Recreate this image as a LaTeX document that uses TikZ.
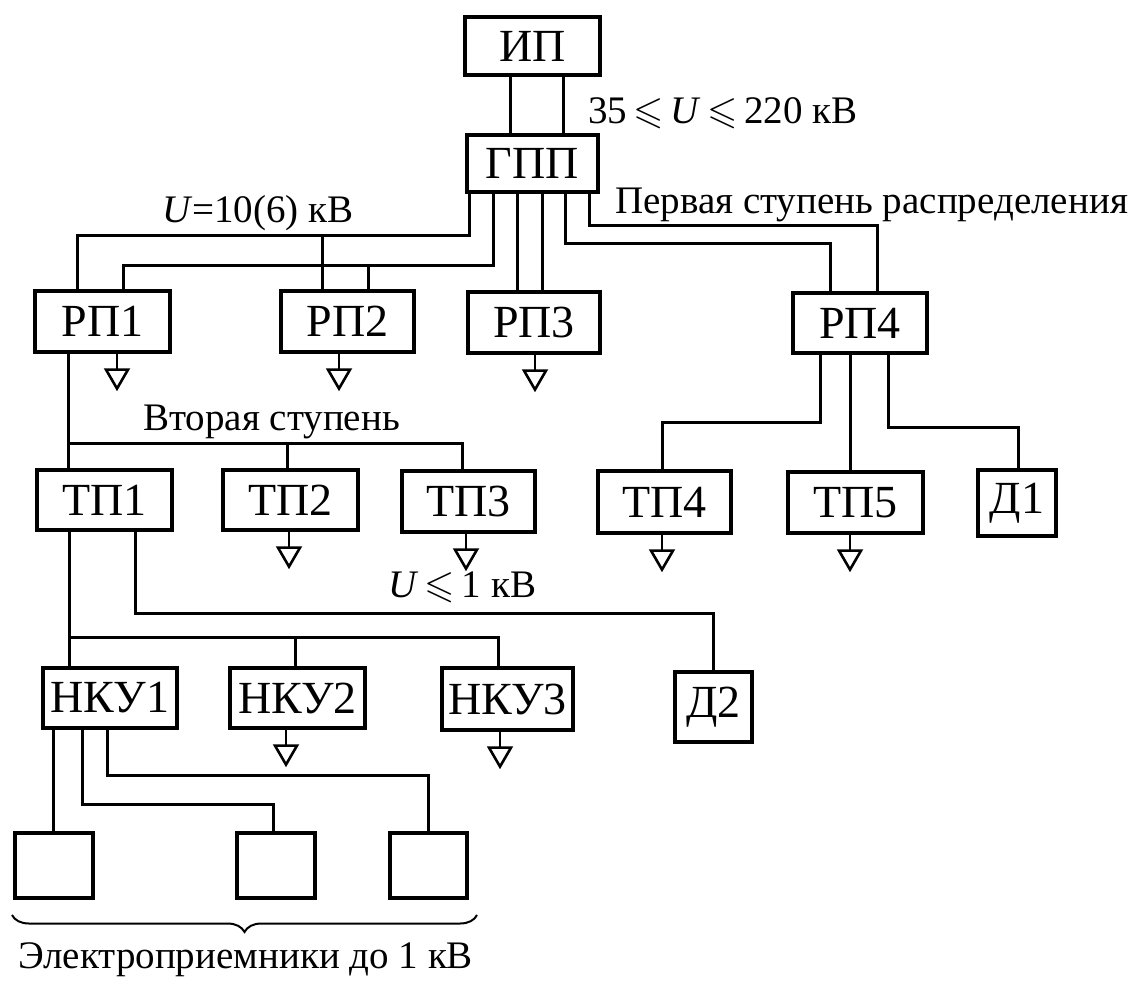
\documentclass[tikz,border=0pt]{standalone}
\usepackage{fontspec}
\usepackage{amssymb}
\setmainfont{Liberation Serif}
\usetikzlibrary{decorations.pathreplacing}

\tikzset{
  blok/.style={draw, line width=3.2pt, inner sep=0pt, font=\fontsize{46}{48}\selectfont},
  liniya/.style={line width=3pt},
  nadp/.style={inner sep=0pt, anchor=base west, font=\fontsize{39}{41}\selectfont},
  zeml/.pic={
    \draw[line width=2.6pt] (0,0) -- (0,16);
    \draw[line width=2.6pt, fill=white] (-11,16) -- (11,16) -- (0,35) -- cycle;
  }
}

\begin{document}
\begin{tikzpicture}[x=1pt, y=-1pt]
\useasboundingbox (0,0) rectangle (1134,983);
% blocks
\foreach \n/\lbl/\xa/\ya/\xb/\yb in {ip/ИП/465/17/600/75, gpp/ГПП/467/135/598/192,
    rp1/РП1/35/291/170/352, rp2/РП2/281/291/414/352, rp3/РП3/468/292/600/353, rp4/РП4/793/293/927/353,
    tp1/ТП1/37/470/172/530, tp2/ТП2/223/470/358/530, tp3/ТП3/402/471/535/532,
    tp4/ТП4/598/471/731/533, tp5/ТП5/788/472/923/533, d1/Д1/978/470/1056/536,
    nku1/НКУ1/43/668/177/728, nku2/НКУ2/230/668/365/728, nku3/НКУ3/442/668/573/730, d2/Д2/675/672/752/742,
    e1//15/833/93/898, e2//237/833/315/898, e3//390/833/467/898}
  \node[blok, minimum width={(\xb-\xa)*1pt}, minimum height={(\yb-\ya)*1pt}] (\n) at ({(\xa+\xb)/2},{(\ya+\yb)/2}) {\lbl};

% first stage
\draw[liniya] (ip.south -| 510,0) -- (gpp.north -| 510,0);
\draw[liniya] (ip.south -| 563,0) -- (gpp.north -| 563,0);
\draw[liniya] (gpp.south -| 469,0) |- (77,235) -- (rp1.north -| 77,0);
\draw[liniya] (gpp.south -| 493,0) |- (123,265) -- (rp1.north -| 123,0);
\draw[liniya] (322,235) -- (rp2.north -| 322,0);
\draw[liniya] (368,265) -- (rp2.north -| 368,0);
\draw[liniya] (gpp.south -| 517,0) -- (rp3.north -| 517,0);
\draw[liniya] (gpp.south -| 542,0) -- (rp3.north -| 542,0);
\draw[liniya] (gpp.south -| 565,0) |- (830,243) -- (rp4.north -| 830,0);
\draw[liniya] (gpp.south -| 589,0) |- (877,225) -- (rp4.north -| 877,0);

% second stage
\draw[liniya] (rp1.south -| 68,0) -- (tp1.north -| 68,0);
\draw[liniya] (68,443) -| (tp3.north -| 462,0);
\draw[liniya] (287,443) -- (tp2.north -| 287,0);
\draw[liniya] (rp4.south -| 820,0) |- (662,422) -- (tp4.north -| 662,0);
\draw[liniya] (rp4.south -| 850,0) -- (tp5.north -| 850,0);
\draw[liniya] (rp4.south -| 888,0) |- (1018,427) -- (d1.north -| 1018,0);

% up to 1 kV
\draw[liniya] (tp1.south -| 69,0) -- (nku1.north -| 69,0);
\draw[liniya] (69,637) -| (nku3.north -| 498,0);
\draw[liniya] (295,637) -- (nku2.north -| 295,0);
\draw[liniya] (tp1.south -| 135,0) |- (713,613) -- (d2.north -| 713,0);
\draw[liniya] (nku1.south -| 53,0) -- (e1.north -| 53,0);
\draw[liniya] (nku1.south -| 82,0) |- (273,804) -- (e2.north -| 273,0);
\draw[liniya] (nku1.south -| 107,0) |- (428,775) -- (e3.north -| 428,0);

% earthing
\foreach \n/\xg in {rp1/117, rp2/339, rp3/535, tp2/289, tp3/466, tp4/662, tp5/850, nku2/286, nku3/500}
  \pic at (\n.south -| \xg,0) {zeml};

% labels
\node[nadp] (u1) at (588,123) {35\,$\leqslant$\,\textit{U}\,$\leqslant$\,220 кВ};
\node[nadp] (u2) at (162,222) {\textit{U}=10(6) кВ};
\node[nadp] (st1) at (615,213) {Первая ступень распределения};
\node[nadp] (st2) at (143,430) {Вторая ступень};
\node[nadp] (u3) at (388,597) {\textit{U}\,$\leqslant$\,1 кВ};
\draw[line width=2pt, decorate, decoration={brace, mirror, amplitude=17pt}] (12,915) -- (477,915);
\node[nadp] (ep) at (18,968) {Электроприемники до 1 кВ};
\end{tikzpicture}
\end{document}
